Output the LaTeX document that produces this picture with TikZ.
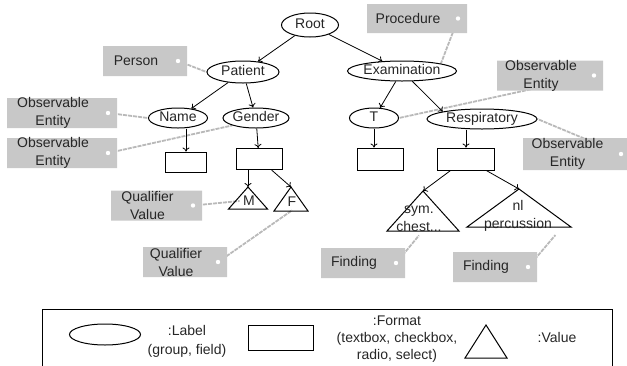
\documentclass[tikz,border=0pt]{standalone}
\usepackage{fontspec}
\setmainfont{Liberation Sans}
\usetikzlibrary{arrows.meta,positioning,shapes.geometric,shapes.misc,backgrounds}
\definecolor{tagGray}{RGB}{200,200,200}
\definecolor{bindGray}{RGB}{185,185,185}
\newcommand{\diagfont}{\fontsize{14pt}{18pt}\selectfont}

\begin{document}
\begin{tikzpicture}[x=1pt, y=-1pt, font=\diagfont, text=black!85,
  lbl/.style={ellipse, draw, line width=1pt, inner sep=0pt, minimum height=20pt,
              text height=10pt, text depth=3pt},
  fmt/.style={draw, line width=1pt, minimum width=46pt, minimum height=21pt},
  tagbox/.style={chamfered rectangle, chamfered rectangle corners={north east,south east},
                 chamfered rectangle xsep=11pt, fill=tagGray, inner sep=0pt,
                 minimum height=30pt,
                 path picture={\fill[white] ([xshift=-9pt]path picture bounding box.east) circle (2.2pt);}},
  tagtxt/.style={xshift=-9pt, align=center},
  bind/.style={draw=bindGray, line width=1.8pt, dash pattern=on 4pt off 1pt},
  arr/.style={-{To[length=4pt,width=7pt]}, line width=0.8pt}
]
  \useasboundingbox (0,0) rectangle (627,365);

  % labels (groups and fields)
  \node[lbl, minimum width=57pt, minimum height=24pt] (root)    at (310,25)  {Root};
  \node[lbl, minimum width=72pt, minimum height=22pt] (patient) at (243,72)  {Patient};
  \node[lbl, minimum width=104pt]                     (exam)    at (402,71)  {Examination};
  \node[lbl, minimum width=59pt]                      (name)    at (178,118) {Name};
  \node[lbl, minimum width=66pt]                      (gender)  at (256,118) {Gender};
  \node[lbl, minimum width=49pt]                      (t)       at (374,118) {T};
  \node[lbl, minimum width=110pt]                     (resp)    at (482,119) {Respiratory};

  % formats
  \node[fmt, minimum width=41pt, minimum height=20pt] (nameBox)   at (186,162) {};
  \node[fmt]                                          (genderBox) at (259,159) {};
  \node[fmt, minimum height=22pt]                     (tBox)      at (380,159) {};
  \node[fmt, minimum width=57pt, minimum height=22pt] (respBox)   at (466,159) {};

  % values
  \coordinate (mTop)   at (248,187);
  \coordinate (fTop)   at (291,187);
  \coordinate (symTop) at (423,191);
  \coordinate (nlTop)  at (519,189);
  \draw[line width=1pt] (mTop) -- ++(19.5,22) -- ++(-39,0) -- cycle;
  \draw[line width=1pt] (fTop) -- ++(17,24) -- ++(-34,0) -- cycle;
  \draw[line width=1pt] (symTop) -- ++(36,40) -- ++(-72,0) -- cycle;
  \draw[line width=1pt] (nlTop) -- ++(52,38) -- ++(-104,0) -- cycle;
  \node (mVal) at (249,201) {M};
  \node (fVal) at (292,202) {F};
  \node[align=center] (symVal) at (419,219) {sym.\\chest...};
  \node[align=center] (nlVal)  at (518,216) {nl\\percussion};

  \draw[arr] (root) -- (patient);
  \draw[arr] (root) -- (exam);
  \draw[arr] (patient) -- (name);
  \draw[arr] (patient) -- (gender);
  \draw[arr] (exam) -- (t);
  \draw[arr] (exam) -- (resp.north west);
  \draw[arr] (name.south -| nameBox.north) -- (nameBox.north);
  \draw[arr] (gender) -- (genderBox);
  \draw[arr] (t.south) -- (t.south |- tBox.north);
  \draw[arr] (respBox.north |- resp.south) -- (respBox.north);
  \draw[arr] (genderBox.south -| mTop) -- (mTop);
  \draw[arr] (genderBox) -- (fTop);
  \draw[arr] (respBox) -- (symTop);
  \draw[arr] (respBox) -- (nlTop);

  % concept tags
  \node[tagbox, minimum width=84pt, label={[tagtxt]center:Person}] (person) at (145,61) {};
  \node[tagbox, minimum width=110pt, label={[tagtxt]center:{Observable\\Entity}}] (obsName) at (62,113) {};
  \node[tagbox, minimum width=110pt, label={[tagtxt]center:{Observable\\Entity}}] (obsGender) at (62,153) {};
  \node[tagbox, minimum width=100pt, minimum height=29pt, label={[tagtxt]center:Procedure}] (proc) at (417,18.5) {};
  \node[tagbox, minimum width=106pt, label={[tagtxt]center:{Observable\\Entity}}] (obsT) at (550,75.5) {};
  \node[tagbox, minimum width=107pt, minimum height=32pt, label={[tagtxt]center:{Observable\\Entity}}] (obsResp) at (576.5,154) {};
  \node[tagbox, minimum width=91pt, label={[tagtxt]center:{Qualifier\\Value}}] (qualM) at (156.5,205.5) {};
  \node[tagbox, minimum width=84pt, label={[tagtxt]center:{Qualifier\\Value}}] (qualF) at (185,262) {};
  \node[tagbox, minimum width=84pt, label={[tagtxt]center:Finding}] (findSym) at (363,263) {};
  \node[tagbox, minimum width=84pt, label={[tagtxt]center:Finding}] (findNl) at (495,267) {};

  \begin{scope}[on background layer]
    \draw[bind] ([xshift=-9pt]person.east)    -- (patient.west);
    \draw[bind] ([xshift=-9pt]obsName.east)   -- (name.west);
    \draw[bind] ([xshift=-9pt]obsGender.east) -- (gender.south west);
    \draw[bind] ([xshift=-9pt]proc.east)      -- (exam.north east);
    \draw[bind] ([xshift=-9pt]obsT.east)      -- (t.east);
    \draw[bind] ([xshift=-9pt]obsResp.east)   -- (resp.east);
    \draw[bind] ([xshift=-9pt]qualM.east)     -- (mVal.west);
    \draw[bind] ([xshift=-9pt]qualF.east)     -- (fVal.south);
    \draw[bind] ([xshift=-9pt]findSym.east)   -- (symVal.south);
    \draw[bind] ([xshift=-9pt]findNl.east)    -- (nlVal.south east);
  \end{scope}

  % legend
  \node[draw, line width=1pt, minimum width=570pt, minimum height=64pt] (legend) at (327,341) {};
  \node[lbl, minimum width=71pt, minimum height=21pt] (legLbl) at (105,334.5) {};
  \node[align=center, font=\fontsize{14pt}{19pt}\selectfont] (legLblTxt) at (187,341) {:Label\\(group, field)};
  \node[fmt, minimum width=65pt, minimum height=25pt] (legFmt) at (280.5,337.5) {};
  \node[align=center, font=\fontsize{14pt}{17pt}\selectfont] (legFmtTxt) at (397,339) {:Format\\(textbox, checkbox,\\radio, select)};
  \coordinate (legValTop) at (486,325);
  \draw[line width=1pt] (legValTop) -- ++(21,33) -- ++(-42,0) -- cycle;
  \node (legValTxt) at (557,337) {:Value};
\end{tikzpicture}
\end{document}
